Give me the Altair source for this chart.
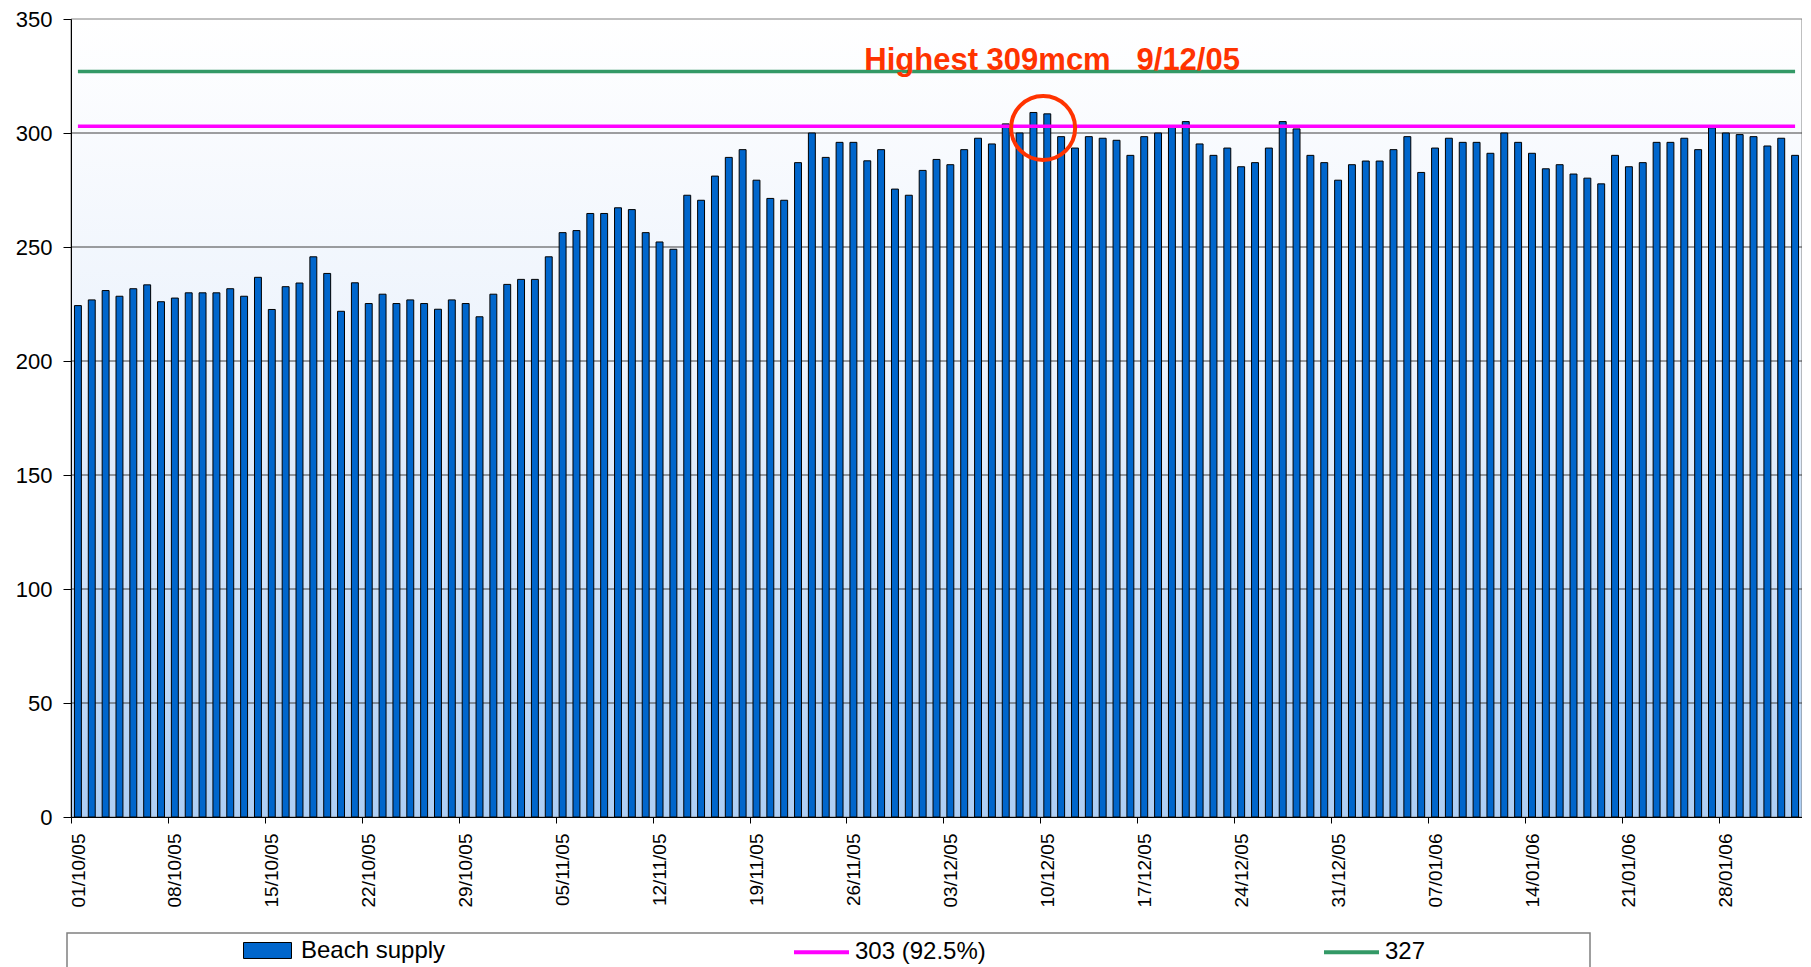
import altair as alt
import pandas as pd

# ---------------- data ----------------
start_date = "2005-10-01"
supply = [
    224.3, 226.8, 230.9, 228.4, 231.7, 233.4, 226.0, 227.6, 229.9, 229.9, 229.9,
    231.7, 228.4, 236.7, 222.6, 232.6, 234.2, 245.7, 238.4, 221.8, 234.3,
    225.2, 229.3, 225.2, 226.8, 225.2, 222.7, 226.8, 225.2, 219.4, 229.3, 233.6,
    235.8, 235.8, 245.7, 256.3, 257.2, 264.7, 264.7, 267.2, 266.4, 256.3,
    252.2, 249.0, 272.7, 270.5, 281.1, 289.3, 292.7, 279.3, 271.3, 270.5, 287.0,
    300.0, 289.3, 295.9, 295.9, 287.8, 292.7, 275.4, 272.7, 283.6, 288.4,
    286.1, 292.7, 297.7, 295.2, 304.0, 300.0, 309.0, 308.4, 298.4, 293.4, 298.4,
    297.7, 296.8, 290.2, 298.4, 300.0, 303.1, 305.0, 295.2, 290.2, 293.4,
    285.2, 287.0, 293.4, 305.0, 301.8, 290.2, 287.0, 279.3, 286.1, 287.7, 287.7,
    292.7, 298.4, 282.7, 293.4, 297.7, 295.9, 295.9, 291.1, 300.0, 295.9,
    291.1, 284.3, 286.1, 282.0, 280.2, 277.7, 290.2, 285.2, 287.0, 295.9, 295.9,
    297.7, 292.7, 302.3, 300.0, 299.3, 298.4, 294.3, 297.7, 290.2,
]
tick_labels = [
    "01/10/05", "08/10/05", "15/10/05", "22/10/05", "29/10/05", "05/11/05",
    "12/11/05", "19/11/05", "26/11/05", "03/12/05", "10/12/05", "17/12/05",
    "24/12/05", "31/12/05", "07/01/06", "14/01/06", "21/01/06", "28/01/06",
]
y_ticks = [0, 50, 100, 150, 200, 250, 300, 350]
bar_series = "Beach supply"
bar_color = "#0066CC"
limit_names = ["303 (92.5%)", "327"]
limit_values = [303, 327]
limit_colors = ["#FF00FF", "#339966"]
peak_text = "Highest 309mcm\u00a0\u00a0\u00a09/12/05"
peak_text_pos = [70.85, 327.8]     # day index, value
peak_circle_pos = [70.2, 302.2]    # day index, value
annot_color = "#FF3300"

FONT = "Liberation Sans"
W, H = 1731, 798
n = len(supply)

# ---------------- tables ----------------
bars_df = pd.DataFrame({
    "day": list(range(n)),
    "date": [d.strftime("%d/%m/%y") for d in pd.date_range(start_date, periods=n, freq="D")],
    "supply": supply,
    "series": [bar_series] * n,
})
bars_df["left"] = bars_df["day"] + 0.25
bars_df["right"] = bars_df["day"] + 0.75

limits_df = pd.DataFrame({
    "series": limit_names,
    "value": limit_values,
    "start": [0.5] * len(limit_values),
    "end": [n - 0.5] * len(limit_values),
})
grid_df = pd.DataFrame({"v": y_ticks[1:-1]})
bg_df = pd.DataFrame({"x0": [0], "x1": [n], "y0": [y_ticks[0]], "y1": [y_ticks[-1]]})
text_df = pd.DataFrame({"x": [peak_text_pos[0]], "y": [peak_text_pos[1]], "label": [peak_text]})
circle_df = pd.DataFrame({"x": [peak_circle_pos[0]], "y": [peak_circle_pos[1]]})

# ---------------- scales / axes ----------------
x_scale = alt.Scale(domain=[0, n], nice=False, zero=False)
y_scale = alt.Scale(domain=[y_ticks[0], y_ticks[-1]], nice=False)

label_array = "[" + ",".join("'%s'" % s for s in tick_labels) + "]"
x_axis = alt.Axis(
    values=[7 * k for k in range(len(tick_labels))],
    labelExpr=label_array + "[round(datum.value / 7)]",
    title=None, grid=False, tickSize=6, tickColor="black", tickWidth=1,
    domainColor="black", domainWidth=1,
    labelAngle=270, labelAlign="right", labelBaseline="middle",
    labelFont=FONT, labelFontSize=19, labelColor="black",
    labelPadding=10, labelOffset=7, labelOverlap=False, labelFlush=False, zindex=1,
)
y_axis = alt.Axis(
    values=y_ticks, title=None, grid=False, tickSize=8, tickColor="black",
    domainColor="black", domainWidth=1,
    labelFont=FONT, labelFontSize=22, labelColor="black", labelPadding=11,
    labelFlush=False, zindex=1,
)

# ---------------- layers ----------------
gradient = alt.LinearGradient(
    gradient="linear",
    stops=[
        alt.GradientStop(offset=0, color="#FFFFFF"),
        alt.GradientStop(offset=0.45, color="#EBF2FC"),
        alt.GradientStop(offset=1, color="#ADCEF4"),
    ],
    x1=0, x2=0, y1=0, y2=1,
)
background = alt.Chart(bg_df).mark_rect(fill=gradient, stroke="#808080", strokeWidth=1).encode(
    x=alt.X("x0:Q", scale=x_scale, axis=x_axis),
    x2="x1:Q",
    y=alt.Y("y0:Q", scale=y_scale, axis=y_axis),
    y2="y1:Q",
)

grid = alt.Chart(grid_df).mark_rule(color="#404040", strokeWidth=1).encode(
    y=alt.Y("v:Q", scale=y_scale)
)

legend_bar = alt.Legend(
    title=None, orient="none", legendX=172, legendY=907, padding=0,
    symbolType="M-1,-0.333H1V0.333H-1Z", symbolSize=2304,
    symbolStrokeColor="black", symbolStrokeWidth=1,
    labelFont=FONT, labelFontSize=24, labelColor="black", labelOffset=9,
)
bars = alt.Chart(bars_df).mark_bar(stroke="black", strokeWidth=1).encode(
    x=alt.X("left:Q", scale=x_scale),
    x2="right:Q",
    y=alt.Y("supply:Q", scale=y_scale, stack=None),
    y2=alt.datum(0),
    fill=alt.Fill("series:N", scale=alt.Scale(domain=[bar_series], range=[bar_color]), legend=legend_bar),
    tooltip=["date:N", "supply:Q"],
)

legend_lines = alt.Legend(
    title=None, orient="none", legendX=721, legendY=903.5, padding=0,
    direction="horizontal", columns=2, columnPadding=330,
    symbolType="stroke", symbolSize=3025, symbolStrokeWidth=4,
    labelFont=FONT, labelFontSize=24, labelColor="black", labelOffset=4,
)
limits = alt.Chart(limits_df).mark_rule(strokeWidth=3.5).encode(
    x=alt.X("start:Q", scale=x_scale),
    x2="end:Q",
    y=alt.Y("value:Q", scale=y_scale),
    stroke=alt.Stroke("series:N", scale=alt.Scale(domain=limit_names, range=limit_colors), legend=legend_lines),
)

label = alt.Chart(text_df).mark_text(
    font=FONT, fontSize=31, fontWeight="bold", color=annot_color,
    align="center", baseline="alphabetic",
).encode(x=alt.X("x:Q", scale=x_scale), y=alt.Y("y:Q", scale=y_scale), text="label:N")

circle = alt.Chart(circle_df).mark_point(
    shape="circle", filled=False, size=4096, color=annot_color, strokeWidth=4, opacity=1,
).encode(x=alt.X("x:Q", scale=x_scale), y=alt.Y("y:Q", scale=y_scale))

legend_frame = alt.Chart(alt.Data(values=[{"k": 0}])).mark_rect(
    fill="transparent", stroke="#808080", strokeWidth=1.5,
).encode(x=alt.value(-4), x2=alt.value(1519), y=alt.value(914), y2=alt.value(990))

chart = alt.layer(background, grid, bars, limits, label, circle, legend_frame).properties(
    width=W, height=H,
    autosize=alt.AutoSizeParams(type="none"),
    padding={"left": 63, "top": 11, "right": 0, "bottom": 160},
).configure_view(stroke=None)

chart.save("out.html", embed_options={"renderer": "svg", "actions": False})
